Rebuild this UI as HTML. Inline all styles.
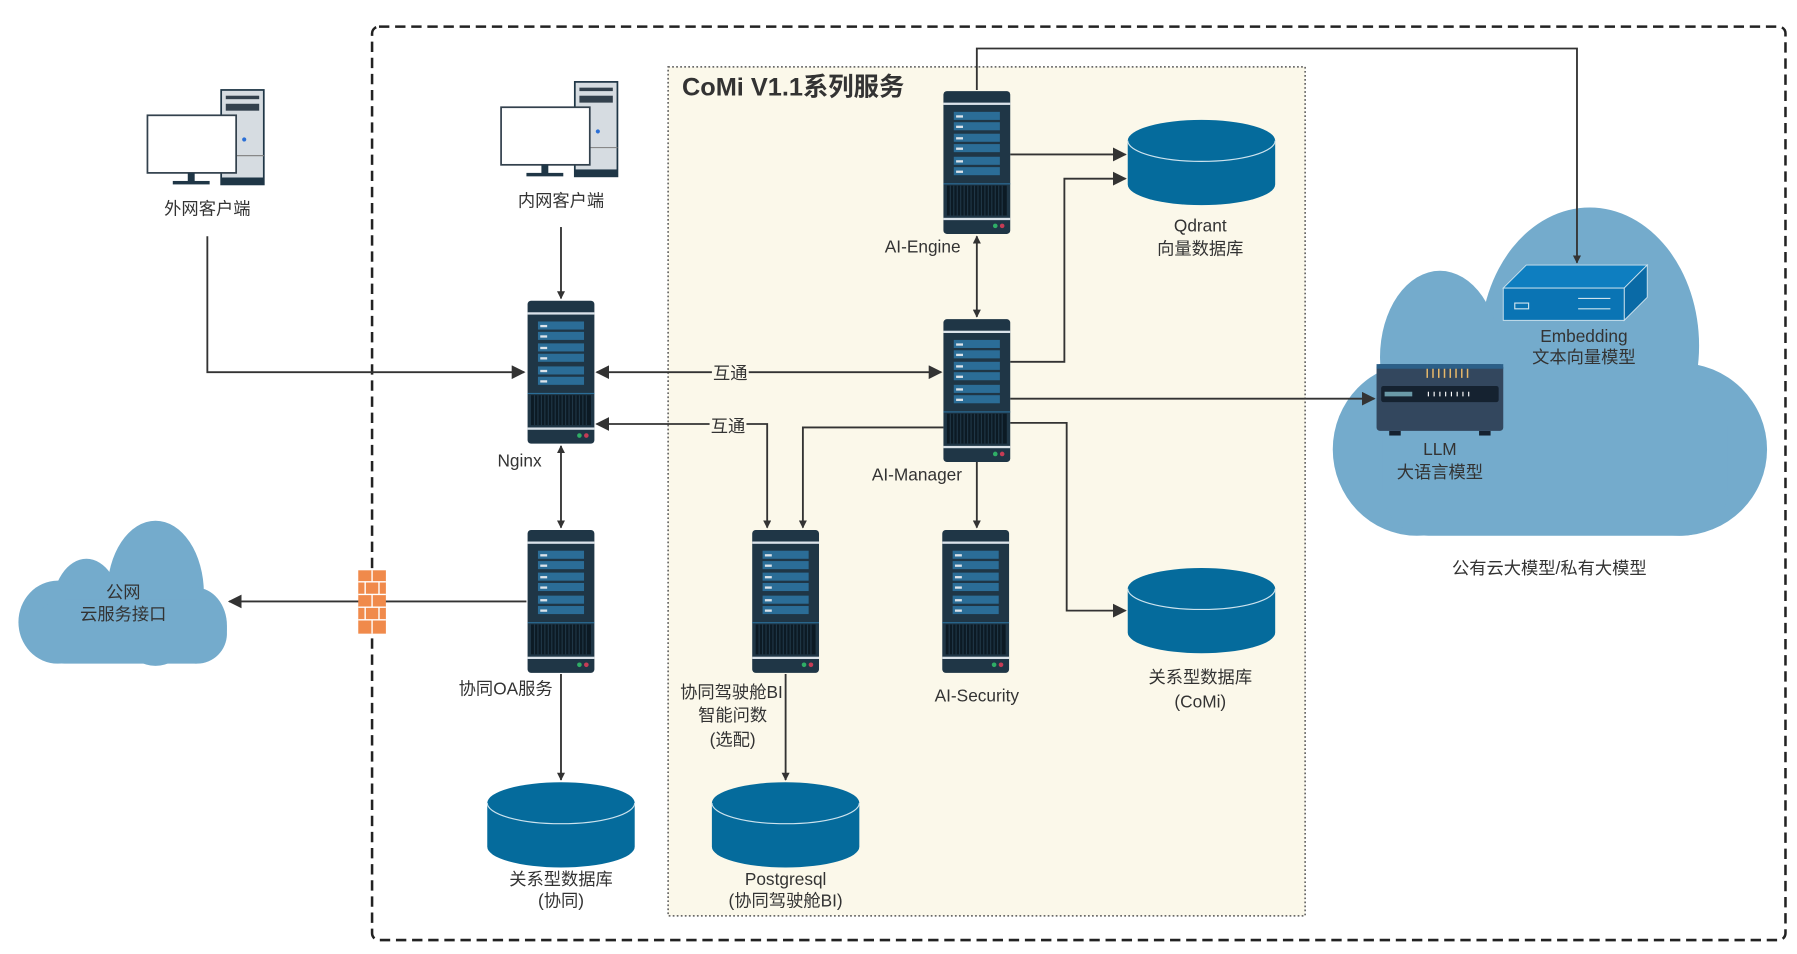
<!DOCTYPE html>
<html><head><meta charset="utf-8"><style>
html,body{margin:0;padding:0;background:#fff;}
svg{display:block}
text{font-family:"Liberation Sans","Noto Sans CJK SC",sans-serif;fill:#333;font-size:15px;text-anchor:middle}
</style></head><body>
<svg width="1797" height="954" viewBox="0 0 1560 828" xmlns="http://www.w3.org/2000/svg">
<defs>
<marker id="a" viewBox="0 0 10 10" refX="9" refY="5" markerWidth="7" markerHeight="7" orient="auto-start-reverse" markerUnits="userSpaceOnUse"><path d="M0,0L10,5L0,10z" fill="#333"/></marker>
<marker id="b" viewBox="0 0 10 10" refX="9" refY="5" markerWidth="12" markerHeight="12" orient="auto-start-reverse" markerUnits="userSpaceOnUse"><path d="M0,0L10,5L0,10z" fill="#333"/></marker>
<g id="srv">
<rect x="0" y="0" width="58" height="124" rx="3" fill="#1f3646"/>
<rect x="0" y="10" width="58" height="2" fill="#dbe3ea"/>
<rect x="9" y="18" width="40" height="7" fill="#2b6d97"/><rect x="9" y="27" width="40" height="7" fill="#2b6d97"/>
<rect x="9" y="37" width="40" height="7" fill="#2b6d97"/><rect x="9" y="46" width="40" height="7" fill="#2b6d97"/>
<rect x="9" y="57" width="40" height="7" fill="#2b6d97"/><rect x="9" y="66" width="40" height="7" fill="#2b6d97"/>
<g fill="#dbe3ea"><rect x="11" y="21" width="6" height="2"/><rect x="11" y="30" width="6" height="2"/><rect x="11" y="40" width="6" height="2"/><rect x="11" y="49" width="6" height="2"/><rect x="11" y="60" width="6" height="2"/><rect x="11" y="69" width="6" height="2"/></g>
<rect x="0" y="80" width="58" height="1" fill="#2b6d97"/>
<rect x="3" y="82" width="52" height="26" fill="#0c1a24"/>
<g stroke="#1f3646" stroke-width="1"><path d="M6,82v26M9,82v26M12,82v26M15,82v26M18,82v26M21,82v26M24,82v26M27,82v26M30,82v26M33,82v26M36,82v26M39,82v26M42,82v26M45,82v26M48,82v26M51,82v26"/></g>
<rect x="0" y="110" width="58" height="2" fill="#dbe3ea"/>
<circle cx="45" cy="117" r="2" fill="#2fae66"/><circle cx="51" cy="117" r="2" fill="#c63c55"/>
</g>
<g id="db">
<path d="M0,18 v38 a64,18 0 0 0 128,0 v-38z" fill="#056b9c"/>
<ellipse cx="64" cy="18" rx="64" ry="18" fill="#056b9c"/>
<path d="M0,18 a64,18 0 0 0 128,0" fill="none" stroke="#cde3ee" stroke-width="1"/>
</g>
<g id="pc">
<rect x="64" y="0" width="37" height="82" fill="#d6dce1" stroke="#1f3646" stroke-width="1.5"/>
<rect x="68" y="5" width="29" height="3" fill="#33414d"/><rect x="68" y="12" width="29" height="6" fill="#33414d"/>
<rect x="64" y="76" width="37" height="6" fill="#1f3646"/><line x1="64" y1="57" x2="101" y2="57" stroke="#888"/>
<circle cx="84" cy="43" r="1.8" fill="#2a6fd6"/>
<rect x="0" y="22" width="77" height="50" fill="#fff" stroke="#33414d" stroke-width="1.5"/>
<rect x="35" y="72" width="6" height="8" fill="#1f3646"/><rect x="22" y="79" width="32" height="3" fill="#1f3646"/>
</g>
</defs>

<rect x="323" y="23" width="1227" height="793" rx="6" fill="none" stroke="#222" stroke-width="2.2" stroke-dasharray="9,5"/>
<rect x="580" y="58" width="553" height="737" fill="#fbf8ea" stroke="#555" stroke-width="1.3" stroke-dasharray="1.5,2"/>
<text x="592" y="83" style="text-anchor:start;font-weight:bold;font-size:22px;fill:#333">CoMi V1.1系列服务</text>

<!-- clouds -->
<g fill="#74abcc">
<ellipse cx="1380" cy="300" rx="95" ry="120"/>
<ellipse cx="1250" cy="310" rx="52" ry="75"/>
<ellipse cx="1230" cy="390" rx="73" ry="75"/>
<ellipse cx="1458" cy="390" rx="76" ry="75"/>
<rect x="1200" y="330" width="300" height="135" rx="40"/>
</g>
<g fill="#74abcc">
<ellipse cx="135" cy="515" rx="42" ry="63"/>
<ellipse cx="75" cy="530" rx="30" ry="45"/>
<ellipse cx="50" cy="540" rx="34" ry="36"/>
<ellipse cx="170" cy="543" rx="27" ry="33"/>
<rect x="30" y="520" width="167" height="56" rx="26"/>
</g>

<!-- connectors -->
<g fill="none" stroke="#333" stroke-width="1.6">
<path d="M180,205V323H455" marker-end="url(#b)"/>
<path d="M487,197V259" marker-end="url(#a)"/>
<path d="M518,323H817" marker-start="url(#b)" marker-end="url(#b)"/>
<path d="M518,368H666V458" marker-start="url(#b)" marker-end="url(#a)"/>
<path d="M487,387V458" marker-start="url(#a)" marker-end="url(#a)"/>
<path d="M457,522H199" marker-end="url(#b)"/>
<path d="M487,585V677" marker-end="url(#a)"/>
<path d="M682,585V677" marker-end="url(#a)"/>
<path d="M819,371H697V458" marker-end="url(#a)"/>
<path d="M848,205V275" marker-start="url(#a)" marker-end="url(#a)"/>
<path d="M877,134H977" marker-end="url(#b)"/>
<path d="M877,314H924V155H977" marker-end="url(#b)"/>
<path d="M877,346H1193" marker-end="url(#b)"/>
<path d="M877,367H926V530H977" marker-end="url(#b)"/>
<path d="M848,401V458" marker-end="url(#a)"/>
<path d="M848,78V42H1369V228" marker-end="url(#a)"/>
</g>
<rect x="618" y="315" width="32" height="17" fill="#fbf8ea"/><text x="634" y="329">互通</text>
<rect x="616" y="361" width="32" height="17" fill="#fbf8ea"/><text x="632" y="375">互通</text>

<!-- firewall -->
<g>
<rect x="311" y="495" width="24" height="55" fill="#f08a4b"/>
<g stroke="#fff" stroke-width="1.2"><path d="M311,505H335M311,516H335M311,527H335M311,538H335M323,495v10M317,505v11M329,505v11M323,516v11M317,527v11M329,527v11M323,538v12"/></g>
</g>

<use href="#pc" x="128" y="78"/>
<use href="#pc" x="435" y="71"/>
<text x="180" y="186">外网客户端</text>
<text x="487" y="179">内网客户端</text>

<use href="#srv" x="458" y="261"/><text x="451" y="405">Nginx</text>
<use href="#srv" x="819" y="79"/><text x="801" y="219">AI-Engine</text>
<use href="#srv" x="819" y="277"/><text x="796" y="417">AI-Manager</text>
<use href="#srv" x="458" y="460"/><text x="439" y="603">协同OA服务</text>
<use href="#srv" x="653" y="460"/><text x="635" y="606">协同驾驶舱BI</text><text x="636" y="626">智能问数</text><text x="636" y="647">(选配)</text>
<use href="#srv" x="818" y="460"/><text x="848" y="609">AI-Security</text>

<use href="#db" x="979" y="104"/><text x="1042" y="201">Qdrant</text><text x="1042" y="221">向量数据库</text>
<use href="#db" x="979" y="493"/><text x="1042" y="593">关系型数据库</text><text x="1042" y="614">(CoMi)</text>
<use href="#db" x="423" y="679"/><text x="487" y="768">关系型数据库</text><text x="487" y="787">(协同)</text>
<use href="#db" x="618" y="679"/><text x="682" y="768">Postgresql</text><text x="682" y="787">(协同驾驶舱BI)</text>

<!-- embedding box -->
<polygon points="1305,250 1325,230 1430,230 1410,250" fill="#0e7ec0" stroke="#cde3ee" stroke-width="0.8"/>
<polygon points="1410,250 1430,230 1430,258 1410,278" fill="#0a6aa6" stroke="#cde3ee" stroke-width="0.8"/>
<rect x="1305" y="250" width="105" height="28" fill="#0a74b4" stroke="#cde3ee" stroke-width="0.8"/>
<rect x="1315" y="263" width="12" height="5" fill="none" stroke="#cde3ee"/>
<path d="M1370,259H1398M1370,268H1398" stroke="#cde3ee"/>
<text x="1375" y="297">Embedding</text><text x="1375" y="315">文本向量模型</text>

<!-- LLM device -->
<rect x="1195" y="316" width="110" height="58" rx="3" fill="#33475e"/>
<rect x="1195" y="316" width="110" height="4" fill="#2b5f88"/>
<rect x="1199" y="335" width="102" height="14" rx="2" fill="#152230"/>
<rect x="1202" y="340" width="24" height="4" fill="#6a9aa8"/>
<g stroke="#fff" stroke-width="1"><path d="M1240,340v4M1245,340v4M1250,340v4M1255,340v4M1260,340v4M1265,340v4M1270,340v4M1275,340v4"/></g>
<g stroke="#e7b86a" stroke-width="1.3"><path d="M1239,320v8M1244,320v8M1249,320v8M1254,320v8M1259,320v8M1264,320v8M1269,320v8M1274,320v8"/></g>
<rect x="1206" y="374" width="10" height="4" fill="#152230"/><rect x="1284" y="374" width="10" height="4" fill="#152230"/>
<text x="1250" y="395">LLM</text><text x="1250" y="415">大语言模型</text>

<text x="1345" y="498">公有云大模型/私有大模型</text>
<text x="107" y="519">公网</text><text x="107" y="538">云服务接口</text>
</svg>
</body></html>
